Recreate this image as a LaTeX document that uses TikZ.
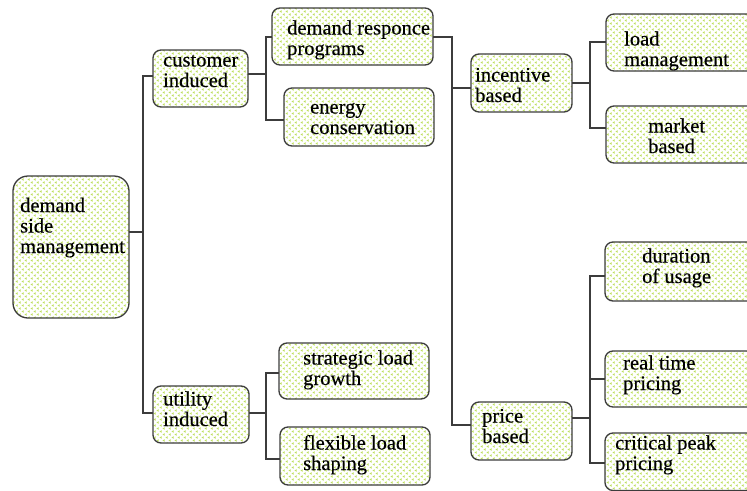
\documentclass[tikz,border=0pt]{standalone}
\usepackage{fontspec}
\setmainfont{Liberation Serif}[FakeBold=0.35]
\usetikzlibrary{patterns}

% light green chevron fill used inside every box
\pgfdeclarepatternformonly{leafdots}{\pgfpoint{-1pt}{-1pt}}{\pgfpoint{7pt}{7pt}}{\pgfpoint{6pt}{6pt}}{%
  \pgfpathmoveto{\pgfpoint{2.6pt}{0.2pt}}\pgfpathlineto{\pgfpoint{0.6pt}{1.5pt}}\pgfpathlineto{\pgfpoint{2.6pt}{2.8pt}}\pgfpathclose
  \pgfpathmoveto{\pgfpoint{5.6pt}{3.2pt}}\pgfpathlineto{\pgfpoint{3.6pt}{4.5pt}}\pgfpathlineto{\pgfpoint{5.6pt}{5.8pt}}\pgfpathclose
  \pgfusepath{fill}}

\definecolor{leaf}{HTML}{BEDF5E}
\definecolor{edge}{HTML}{3C3C3C}

\tikzset{
  box/.style={draw=edge, line width=1.3pt, rounded corners=8pt, pattern color=leaf, pattern=leafdots},
  bigbox/.style={box, rounded corners=15pt},
  txt/.style={font=\fontsize{20.5}{20.5}\selectfont, align=left, inner sep=0pt, anchor=base west, text=black},
  link/.style={draw=edge, line width=1.1pt},
}

\begin{document}
\begin{tikzpicture}[x=1pt,y=-1pt]
\useasboundingbox (0,0) rectangle (747,490);
\fill[white] (0,0) rectangle (747,490);
\clip (0,0) rectangle (747,490);

% boxes
\draw[bigbox] (13,176) rectangle (129,318);
\draw[box] (153,50) rectangle (248,107);
\draw[box] (272,8) rectangle (433,65);
\draw[box] (284,88) rectangle (434,146);
\draw[box] (153,386) rectangle (249,443);
\draw[box] (279,343) rectangle (429,399);
\draw[box] (280,427) rectangle (430,485);
\draw[box] (471,54) rectangle (572,112);
\draw[box] (471,402) rectangle (572,460);
\draw[box] (606,14) rectangle (770,71);
\draw[box] (606,106) rectangle (770,163);
\draw[box] (605,242) rectangle (770,301);
\draw[box] (605,351) rectangle (770,407);
\draw[box] (605,433) rectangle (770,490.5);

% labels (placed by the baseline of their last line)
\node[txt] (tdsm) at (20,253) {demand\\side\\management};
\node[txt] (tci) at (163,87) {customer\\induced};
\node[txt] (tdrp) at (287,55) {demand responce\\programs};
\node[txt] (tec) at (310,134) {energy\\conservation};
\node[txt] (tui) at (163,426) {utility\\induced};
\node[txt] (tslg) at (303,385) {strategic load\\growth};
\node[txt] (tfls) at (303,470) {flexible load\\shaping};
\node[txt] (tib) at (475,102) {incentive\\based};
\node[txt] (tpb) at (482,443) {price\\based};
\node[txt] (tlm) at (624,66) {load\\management};
\node[txt] (tmb) at (648,153) {market\\based};
\node[txt] (tdu) at (642,283) {duration\\of usage};
\node[txt] (trt) at (623,390) {real time\\pricing};
\node[txt] (tcp) at (615,470) {critical peak\\pricing};

% connectors
\draw[link] (129,232) -- (143,232);
\draw[link] (153,76) -| (143,413) -- (153,413);
\draw[link] (248,74) -- (266,74);
\draw[link] (272,37) -| (266,120) -- (284,120);
\draw[link] (249,413) -- (266,413);
\draw[link] (279,373) -| (266,459) -- (280,459);
\draw[link] (433,37) -| (452,425) -- (471,425);
\draw[link] (452,88) -- (471,88);
\draw[link] (572,83) -- (590,83);
\draw[link] (606,42) -| (590,128) -- (606,128);
\draw[link] (572,418) -- (590,418);
\draw[link] (605,276) -| (590,463) -- (605,463);
\draw[link] (590,379) -- (605,379);
\end{tikzpicture}
\end{document}
